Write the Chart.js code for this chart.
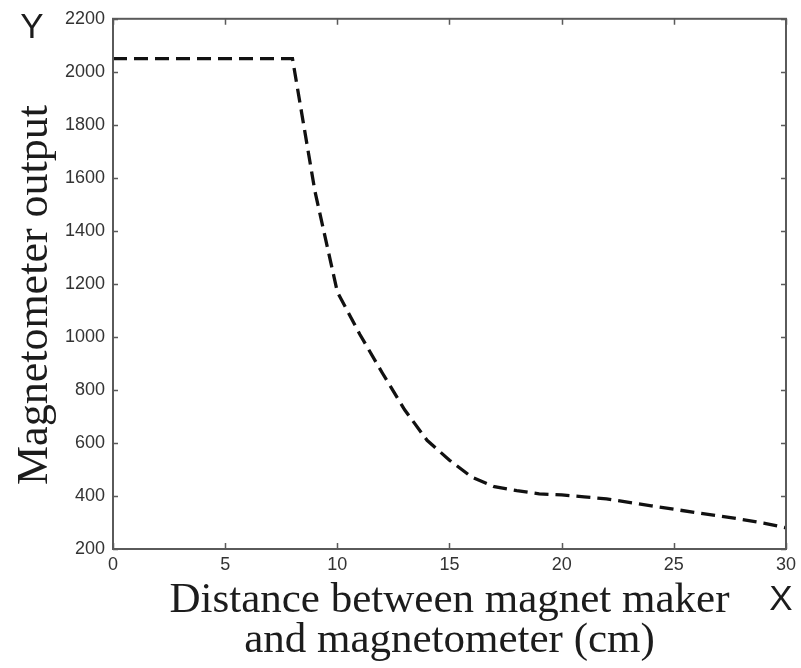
<!DOCTYPE html>
<html>
<head>
<meta charset="utf-8">
<script src="https://cdn.jsdelivr.net/npm/chart.js@4.4.1/dist/chart.umd.min.js"></script>
<style>
  html, body { margin: 0; padding: 0; background: #ffffff; }
  #c { display: block; }
</style>
</head>
<body>
<canvas id="c" width="801" height="668"></canvas>
<script>
// ---- data ----
const distanceCm = [0, 1, 2, 3, 4, 5, 6, 7, 8, 9, 10, 11, 12, 13, 14, 15, 16, 17, 18, 19, 20, 21, 22, 23, 24, 25, 26, 27, 28, 29, 30];
const magnetometerOutput = [2050, 2050, 2050, 2050, 2050, 2050, 2050, 2050, 2050, 1550, 1170, 1010, 865, 725, 610, 535, 471, 435, 420, 408, 404, 397, 389, 376, 363, 350, 337, 325, 312, 298, 280];
const xTicks = [0, 5, 10, 15, 20, 25, 30];
const yTicks = [200, 400, 600, 800, 1000, 1200, 1400, 1600, 1800, 2000, 2200];
const yAxisTitle = 'Magnetometer output';
const xAxisTitleLines = ['Distance between magnet maker', 'and magnetometer (cm)'];
const yCornerLabel = 'Y';
const xCornerLabel = 'X';

const points = distanceCm.map((x, i) => ({ x: x, y: magnetometerOutput[i] }));

const AXIS_COLOR = '#5a5a5a';
const TEXT_COLOR = '#1c1c1c';

const boxAndLabels = {
  id: 'boxAndLabels',
  afterDraw(chart) {
    const ctx = chart.ctx;
    const a = chart.chartArea;
    const xs = chart.scales.x, ys = chart.scales.y;
    ctx.save();
    // frame
    ctx.strokeStyle = AXIS_COLOR;
    ctx.lineWidth = 2;
    ctx.strokeRect(a.left, a.top, a.right - a.left, a.bottom - a.top);
    // inner ticks on all four sides
    ctx.lineWidth = 1.5;
    ctx.beginPath();
    yTicks.forEach(v => {
      const p = Math.round(ys.getPixelForValue(v)) + 0.5;
      ctx.moveTo(a.left, p); ctx.lineTo(a.left + 5, p);
      ctx.moveTo(a.right, p); ctx.lineTo(a.right - 5, p);
    });
    xTicks.forEach(v => {
      const p = Math.round(xs.getPixelForValue(v)) + 0.5;
      ctx.moveTo(p, a.bottom); ctx.lineTo(p, a.bottom - 6);
      ctx.moveTo(p, a.top); ctx.lineTo(p, a.top + 6);
    });
    ctx.stroke();

    // y axis title (rotated)
    ctx.fillStyle = TEXT_COLOR;
    ctx.font = '44px "Liberation Serif", "Times New Roman", serif';
    ctx.save();
    ctx.translate(47, 295);
    ctx.rotate(-Math.PI / 2);
    ctx.textAlign = 'center';
    ctx.textBaseline = 'alphabetic';
    ctx.fillText(yAxisTitle, 0, 0);
    ctx.restore();

    // x axis title (two lines)
    ctx.font = '43px "Liberation Serif", "Times New Roman", serif';
    ctx.textAlign = 'center';
    ctx.textBaseline = 'alphabetic';
    const cx = (a.left + a.right) / 2;
    ctx.fillText(xAxisTitleLines[0], cx, 612);
    ctx.fillText(xAxisTitleLines[1], cx, 652);

    // corner labels
    ctx.font = '35px "Liberation Sans", Arial, sans-serif';
    ctx.fillText(yCornerLabel, 32, 38);
    ctx.fillText(xCornerLabel, 781, 610);
    ctx.restore();
  }
};

new Chart(document.getElementById('c'), {
  type: 'line',
  data: {
    datasets: [{
      data: points,
      borderColor: '#111111',
      borderWidth: 3.3,
      borderDash: [14, 7],
      borderCapStyle: 'butt',
      pointRadius: 0,
      fill: false,
      tension: 0
    }]
  },
  options: {
    responsive: false,
    animation: false,
    devicePixelRatio: 1,
    layout: { padding: { left: 0, top: 17, right: 13, bottom: 0 } },
    plugins: { legend: { display: false }, tooltip: { enabled: false } },
    scales: {
      x: {
        type: 'linear',
        min: 0, max: 30,
        afterBuildTicks(scale) { scale.ticks = xTicks.map(v => ({ value: v })); },
        afterFit(scale) { scale.height = 668 - 549; },
        grid: { display: false, drawTicks: false },
        border: { display: false },
        ticks: {
          color: '#333333',
          padding: 5,
          maxRotation: 0,
          font: { family: '"Liberation Sans", Arial, sans-serif', size: 18 },
          callback: v => String(v)
        }
      },
      y: {
        type: 'linear',
        min: 200, max: 2200,
        afterBuildTicks(scale) { scale.ticks = yTicks.map(v => ({ value: v })); },
        afterFit(scale) { scale.width = 113; },
        grid: { display: false, drawTicks: false },
        border: { display: false },
        ticks: {
          color: '#333333',
          padding: 8,
          font: { family: '"Liberation Sans", Arial, sans-serif', size: 18 },
          callback: v => String(v)
        }
      }
    }
  },
  plugins: [boxAndLabels]
});
</script>
</body>
</html>
